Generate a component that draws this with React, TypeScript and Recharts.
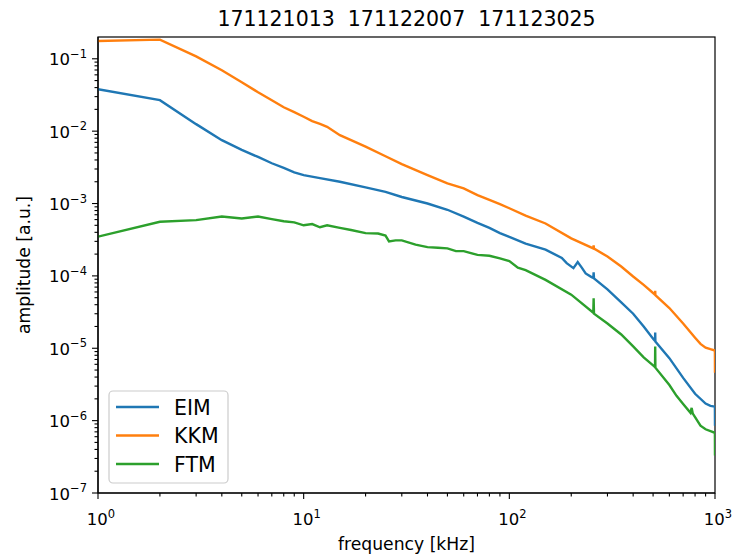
import React from 'react';
import { LineChart, Line, XAxis, YAxis, Customized } from 'recharts';

const TITLE = '171121013  171122007  171123025';
const X_LABEL = 'frequency [kHz]';
const Y_LABEL = 'amplitude [a.u.]';
const SERIES_NAMES = ['EIM', 'KKM', 'FTM'];
const SERIES_COLORS = ['#1f77b4', '#ff7f0e', '#2ca02c'];

const eimFreq = [1, 2, 3, 4, 5, 6, 7, 8, 9, 10, 12, 15, 20, 25, 30, 40, 50, 60, 70, 80, 90, 100, 120, 150, 180, 190, 205, 215, 225, 235, 250, 256, 257, 258, 300, 350, 400, 450, 500, 511, 512, 513, 600, 700, 800, 900, 950, 999, 1000];
const eimAmp = [0.038, 0.0268, 0.0125, 0.0075, 0.0055, 0.0044, 0.0036, 0.0031, 0.0027, 0.00247, 0.00224, 0.002, 0.00167, 0.00145, 0.00123, 0.001, 8.2e-4, 6.6e-4, 5.4e-4, 4.6e-4, 3.9e-4, 3.45e-4, 2.8e-4, 2.3e-4, 1.77e-4, 1.5e-4, 1.28e-4, 1.55e-4, 1.3e-4, 1.08e-4, 9.7e-5, 9.4e-5, 1.12e-4, 9.2e-5, 6.5e-5, 4.3e-5, 3.0e-5, 2.0e-5, 1.35e-5, 1.26e-5, 1.65e-5, 1.24e-5, 7.3e-6, 3.9e-6, 2.35e-6, 1.72e-6, 1.6e-6, 1.56e-6, 8.5e-7];

const kkmFreq = [1, 2, 3, 4, 5, 6, 7, 8, 9, 10, 11, 12, 13, 15, 17, 20, 25, 30, 40, 50, 60, 70, 80, 90, 100, 120, 150, 200, 256, 257, 258, 300, 350, 400, 450, 500, 511, 512, 513, 600, 700, 800, 850, 900, 950, 999, 1000];
const kkmAmp = [0.176, 0.184, 0.108, 0.0693, 0.0474, 0.0345, 0.0268, 0.0214, 0.0183, 0.0158, 0.0138, 0.0126, 0.0115, 0.0088, 0.0075, 0.0061, 0.0045, 0.0035, 0.00247, 0.0019, 0.00162, 0.00131, 0.00112, 9.8e-4, 8.6e-4, 6.8e-4, 5.3e-4, 3.3e-4, 2.4e-4, 2.65e-4, 2.38e-4, 1.85e-4, 1.35e-4, 9.8e-5, 7.5e-5, 5.8e-5, 5.5e-5, 6.2e-5, 5.4e-5, 3.6e-5, 2.2e-5, 1.4e-5, 1.15e-5, 1.02e-5, 9.7e-6, 9.3e-6, 4.6e-6];

const ftmFreq = [1, 2, 3, 4, 5, 6, 7, 8, 9, 10, 11, 12, 13, 15, 17, 20, 23, 25, 26, 28, 30, 35, 40, 45, 50, 55, 60, 70, 80, 90, 100, 110, 120, 150, 200, 256, 257, 258, 300, 350, 400, 450, 500, 511, 512, 513, 600, 650, 700, 760, 770, 780, 850, 900, 999, 1000];
const ftmAmp = [3.48e-4, 5.6e-4, 5.9e-4, 6.6e-4, 6.2e-4, 6.6e-4, 6.1e-4, 5.7e-4, 5.5e-4, 5.0e-4, 5.2e-4, 4.7e-4, 5.0e-4, 4.6e-4, 4.3e-4, 3.9e-4, 3.85e-4, 3.6e-4, 3.0e-4, 3.1e-4, 3.1e-4, 2.7e-4, 2.5e-4, 2.45e-4, 2.4e-4, 2.2e-4, 2.2e-4, 1.95e-4, 1.9e-4, 1.75e-4, 1.6e-4, 1.3e-4, 1.2e-4, 8.8e-5, 5.5e-5, 3.1e-5, 4.9e-5, 3.0e-5, 2.2e-5, 1.55e-5, 1.06e-5, 7.5e-6, 5.8e-6, 5.5e-6, 1.06e-5, 5.4e-6, 3.1e-6, 2.2e-6, 1.7e-6, 1.28e-6, 1.5e-6, 1.25e-6, 8.5e-7, 7.6e-7, 6.8e-7, 3.3e-7];

const xMajorTicks = [1, 10, 100, 1000];
const yMajorTicks = [1e-7, 1e-6, 1e-5, 1e-4, 1e-3, 1e-2, 1e-1];
const minorMultipliers = [2, 3, 4, 5, 6, 7, 8, 9];

const xTicks = [
  ...xMajorTicks,
  ...xMajorTicks.slice(0, -1).flatMap((d) => minorMultipliers.map((m) => m * d)),
].sort((a, b) => a - b);
const yTicks = [
  ...yMajorTicks,
  ...yMajorTicks.flatMap((d) => minorMultipliers.map((m) => m * d)).filter((v) => v < 0.199),
].sort((a, b) => a - b);

const toRows = (f: number[], v: number[]) => f.map((x, i) => ({ f: x, v: v[i] }));
const seriesData = [toRows(eimFreq, eimAmp), toRows(kkmFreq, kkmAmp), toRows(ftmFreq, ftmAmp)];

const W = 740;
const H = 555;
const MARGIN = { top: 37, right: 25, bottom: 22, left: 8 };
const Y_AXIS_W = 90;
const X_AXIS_H = 40;
const PLOT_L = MARGIN.left + Y_AXIS_W;
const PLOT_T = MARGIN.top;
const PLOT_W = W - MARGIN.right - PLOT_L;
const PLOT_H = H - MARGIN.bottom - X_AXIS_H - PLOT_T;
const FONT = "'DejaVu Sans', sans-serif";
const TICK_FS = 16.5;
const SUP_FS = 11.5;

const isMajor = (v: number) => {
  const l = Math.log10(v);
  return Math.abs(l - Math.round(l)) < 1e-6;
};
const expLabel = (v: number) => {
  const e = Math.round(Math.log10(v));
  return e < 0 ? '\u2212' + String(-e) : String(e);
};

const YTick = (props: any) => {
  const { x, y, payload } = props;
  const v = payload.value;
  const major = isMajor(v);
  return (
    <g>
      <line x1={x} x2={x - (major ? 6 : 3.5)} y1={y} y2={y} stroke="#000" strokeWidth={1.1} />
      {major && (
        <text x={x - 11} y={y + 6.5} textAnchor="end" fontSize={TICK_FS} fontFamily={FONT} fill="#000">
          10
          <tspan dy={-7.5} fontSize={SUP_FS}>{expLabel(v)}</tspan>
        </text>
      )}
    </g>
  );
};

const XTick = (props: any) => {
  const { x, y, payload } = props;
  const v = payload.value;
  const major = isMajor(v);
  return (
    <g>
      <line x1={x} x2={x} y1={y} y2={y + (major ? 6 : 3.5)} stroke="#000" strokeWidth={1.1} />
      {major && (
        <text x={x + 3} y={y + 32} textAnchor="middle" fontSize={TICK_FS} fontFamily={FONT} fill="#000">
          10
          <tspan dy={-7.5} fontSize={SUP_FS}>{expLabel(v)}</tspan>
        </text>
      )}
    </g>
  );
};

const Decorations = () => {
  const legX = 109;
  const legY = 391;
  const rowY = [407, 435.5, 464];
  return (
    <g>
      <rect x={PLOT_L} y={PLOT_T} width={PLOT_W} height={PLOT_H} fill="none" stroke="#000" strokeWidth={1.2} />
      <text x={PLOT_L + PLOT_W / 2} y={26} textAnchor="middle" fontSize={20.5} fontFamily={FONT} fill="#000">
        {TITLE.replace(/ /g, '\u00a0')}
      </text>
      <text x={PLOT_L + PLOT_W / 2} y={550} textAnchor="middle" fontSize={17.2} fontFamily={FONT} fill="#000">
        {X_LABEL}
      </text>
      <text
        x={30}
        y={PLOT_T + PLOT_H / 2}
        transform={`rotate(-90 30 ${PLOT_T + PLOT_H / 2})`}
        textAnchor="middle"
        fontSize={17.2}
        fontFamily={FONT}
        fill="#000"
      >
        {Y_LABEL}
      </text>
      <rect x={legX} y={legY} width={119} height={92} rx={4} ry={4} fill="#fff" fillOpacity={0.8} stroke="#cccccc" strokeWidth={1.2} />
      {SERIES_NAMES.map((name, i) => (
        <g key={name}>
          <line x1={116} x2={159} y1={rowY[i]} y2={rowY[i]} stroke={SERIES_COLORS[i]} strokeWidth={2.4} />
          <text x={174} y={rowY[i] + 7.5} fontSize={20.5} fontFamily={FONT} fill="#000">
            {name}
          </text>
        </g>
      ))}
    </g>
  );
};

export default function App() {
  return (
    <div style={{ position: 'absolute', left: 0, top: 0, width: W, height: H, background: '#fff' }}>
      <LineChart width={W} height={H} margin={MARGIN}>
        <XAxis
          dataKey="f"
          type="number"
          scale="log"
          domain={[1, 1000]}
          allowDataOverflow
          ticks={xTicks}
          interval={0}
          tick={<XTick />}
          tickLine={false}
          tickSize={0}
          tickMargin={0}
          height={X_AXIS_H}
          axisLine={{ stroke: '#000', strokeWidth: 1.2 }}
        />
        <YAxis
          dataKey="v"
          type="number"
          scale="log"
          domain={[1e-7, 0.2]}
          allowDataOverflow
          ticks={yTicks}
          interval={0}
          tick={<YTick />}
          tickLine={false}
          tickSize={0}
          tickMargin={0}
          width={Y_AXIS_W}
          axisLine={{ stroke: '#000', strokeWidth: 1.2 }}
        />
        {SERIES_NAMES.map((name, i) => (
          <Line
            key={name}
            name={name}
            data={seriesData[i]}
            dataKey="v"
            type="linear"
            stroke={SERIES_COLORS[i]}
            strokeWidth={2.4}
            dot={false}
            activeDot={false}
            isAnimationActive={false}
          />
        ))}
        <Customized component={Decorations} />
      </LineChart>
    </div>
  );
}
